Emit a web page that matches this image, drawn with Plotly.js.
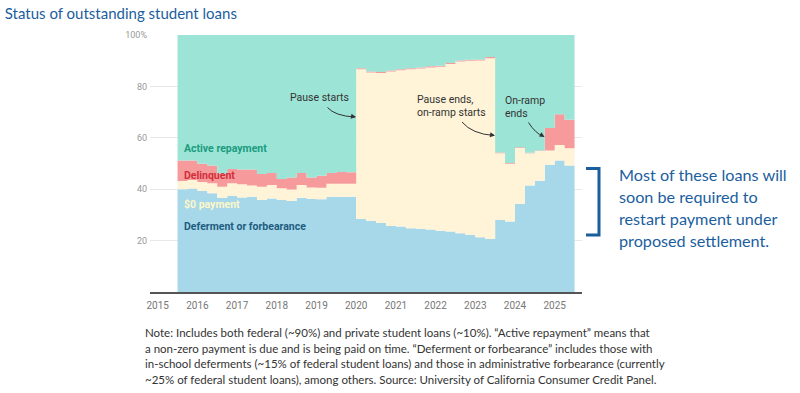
<!DOCTYPE html>
<html>
<head>
<meta charset="utf-8">
<script src="https://cdn.plot.ly/plotly-3.0.1.min.js"></script>
<style>html,body{margin:0;padding:0;background:#fff;}#chart{width:800px;height:393px;}</style>
</head>
<body>
<div id="chart"></div>
<script>
// Quarterly shares (%) of outstanding student loans, 2015 Q3 – 2025 Q2
const quarters = [
  "2015Q3","2015Q4","2016Q1","2016Q2","2016Q3","2016Q4","2017Q1","2017Q2","2017Q3","2017Q4",
  "2018Q1","2018Q2","2018Q3","2018Q4","2019Q1","2019Q2","2019Q3","2019Q4","2020Q1","2020Q2",
  "2020Q3","2020Q4","2021Q1","2021Q2","2021Q3","2021Q4","2022Q1","2022Q2","2022Q3","2022Q4",
  "2023Q1","2023Q2","2023Q3","2023Q4","2024Q1","2024Q2","2024Q3","2024Q4","2025Q1","2025Q2"
];
const deferment = [
  40.0,40.3,39.3,38.4,36.7,37.5,36.8,37.1,35.8,36.4,
  35.8,35.4,36.7,36.2,36.1,37.1,37.1,37.1,28.4,27.7,
  26.8,25.7,25.5,24.8,24.6,24.3,23.8,23.5,22.9,22.2,
  21.3,20.6,28.0,27.4,34.3,41.4,43.3,49.5,51.2,49.2
];
const zeroPayment = [
  3.2,3.3,3.5,3.9,4.3,4.8,5.1,4.3,5.2,5.2,
  4.6,4.5,4.9,4.5,4.5,5.0,5.0,5.0,58.3,57.7,
  58.4,60.1,60.8,61.9,62.4,63.1,63.8,65.2,66.8,67.8,
  68.8,70.4,26.0,22.5,21.7,12.6,11.6,5.6,6.0,6.7
];
const delinquent = [
  8.0,7.6,7.1,6.9,5.0,5.6,5.8,6.3,4.9,4.7,
  3.6,4.7,4.7,3.9,4.6,4.2,4.6,4.5,0.4,0.4,
  0.4,0.4,0.4,0.4,0.4,0.4,0.4,0.4,0.4,0.4,
  0.4,0.4,0.3,0.3,0.3,0.2,0.2,8.7,12.0,11.1
];
const activeRepayment = [
  48.8,48.8,50.1,50.8,54.0,52.1,52.3,52.3,54.1,53.7,
  56.0,55.4,53.7,55.4,54.8,53.7,53.3,53.4,12.9,14.2,
  14.4,13.8,13.3,12.9,12.6,12.2,12.0,10.9,9.9,9.6,
  9.5,8.6,45.7,49.8,43.7,45.8,44.9,36.2,30.8,33.0
];
const xTickVals = [2015,2016,2017,2018,2019,2020,2021,2022,2023,2024,2025];
const xTickText = ["2015","2016","2017","2018","2019","2020","2021","2022","2023","2024","2025"];
const yTickVals = [20,40,60,80,100];
const yTickText = ["20","40","60","80","100%"];

// quarter start as decimal year, plus closing edge for step shape
function qStart(q){ return parseInt(q.slice(0,4)) + (parseInt(q.slice(5))-1)*0.25; }
const xs = quarters.map(qStart);
xs.push(xs[xs.length-1]+0.25);
function closeStep(a){ return a.concat([a[a.length-1]]); }

const series = [
  {name:"Deferment or forbearance", y:deferment, color:"#a6d8ea"},
  {name:"$0 payment", y:zeroPayment, color:"#fff3d8"},
  {name:"Delinquent", y:delinquent, color:"#f79a9c"},
  {name:"Active repayment", y:activeRepayment, color:"#9ce4d6"}
];
const traces = series.map(s => ({
  type:"scatter", mode:"lines", x:xs, y:closeStep(s.y), name:s.name,
  stackgroup:"one", line:{width:0, shape:"hv"}, fillcolor:s.color, hoverinfo:"skip"
}));

// pixel helpers for decorations
const L=150, T=35, PW=432, PH=257, X0=2014.806, X1=2025.688;
const xd = px => X0 + (px-L)/PW*(X1-X0);
const yd = py => (T+PH-py)/PH*100;
const xp = px => (px-L)/PW;
const yp = py => (T+PH-py)/PH;

const annoFont = {family:"Roboto, sans-serif", size:10.5, color:"#333"};
const annotations = [];
function txt(px, py, text, font, xanchor){
  annotations.push({xref:"paper", yref:"paper", x:xp(px), y:yp(py), text:text, showarrow:false,
    xanchor:xanchor||"left", yanchor:"middle", font:font});
}
function arrowHead(px, py, dx, dy){
  annotations.push({xref:"x", yref:"y", x:xd(px), y:yd(py), ax:-dx, ay:-dy, axref:"pixel", ayref:"pixel",
    text:"", showarrow:true, arrowhead:2, arrowsize:1, arrowwidth:1, arrowcolor:"#333", standoff:0});
}
// in-chart labels
const lab = (c) => ({family:"Roboto, sans-serif", size:10.5, color:c, weight:"bold"});
txt(182, 148, "<b>Active repayment</b>", lab("#1a9c7e"));
txt(182, 175, "<b>Delinquent</b>", lab("#d12f3b"));
txt(182, 204, "<b>$0 payment</b>", lab("#fff6c8"));
txt(182, 226, "<b>Deferment or forbearance</b>", lab("#1f5d80"));
// event annotations
txt(319.5, 97, "Pause starts", annoFont, "center");
txt(415, 99.5, "Pause ends,", annoFont);
txt(415, 112, "on-ramp starts", annoFont);
txt(502.5, 100, "On-ramp", annoFont);
txt(502.5, 113, "ends", annoFont);
arrowHead(356, 117, 6, 1);
arrowHead(495, 135.5, 6, 1);
arrowHead(544.5, 137, 5, 3);
// right-side statement
const sideFont = {family:"Lato, sans-serif", size:16.2, color:"#1b5e9e"};
txt(617, 174, "Most of these loans will", sideFont);
txt(617, 196.5, "soon be required to", sideFont);
txt(617, 218.5, "restart payment under", sideFont);
txt(617, 240.5, "proposed settlement.", sideFont);
// note
const noteFont = {family:"Lato, sans-serif", size:11.5, color:"#333"};
txt(142.5, 332, "Note: Includes both federal (~90%) and private student loans (~10%). “Active repayment” means that", noteFont);
txt(142.5, 348, "a non-zero payment is due and is being paid on time. “Deferment or forbearance” includes those with", noteFont);
txt(142.5, 363.5, "in-school deferments (~15% of federal student loans) and those in administrative forbearance (currently", noteFont);
txt(142.5, 379.5, "~25% of federal student loans), among others. Source: University of California Consumer Credit Panel.", noteFont);

const curve = (x0,y0,cx,cy,x1,y1) => ({type:"path", xref:"x", yref:"y",
  path:`M ${xd(x0)},${yd(y0)} Q ${xd(cx)},${yd(cy)} ${xd(x1)},${yd(y1)}`,
  line:{color:"#333", width:1}});
const shapes = [
  curve(327.5,107.5, 335,116, 355,117),
  curve(462,122, 472,134, 494,135.5),
  curve(528.5,122.5, 535,133, 543.5,136.5),
  {type:"path", xref:"paper", yref:"paper",
   path:`M ${xp(586)},${yp(168.5)} L ${xp(599)},${yp(168.5)} L ${xp(599)},${yp(235)} L ${xp(586)},${yp(235)}`,
   line:{color:"#1b5e9e", width:3}}
];

const layout = {
  width:800, height:393,
  margin:{l:L, r:800-L-PW, t:T, b:393-T-PH, pad:0},
  paper_bgcolor:"#fff", plot_bgcolor:"#fff",
  showlegend:false,
  title:{text:"Status of outstanding student loans", x:0.006, xanchor:"left", xref:"container",
         y:1-13.5/393, yanchor:"middle", yref:"container",
         font:{family:"Lato, sans-serif", size:15, color:"#1b5e9e"}},
  xaxis:{range:[X0,X1], tickvals:xTickVals, ticktext:xTickText, showgrid:false, zeroline:false,
         showline:true, linecolor:"#555", linewidth:1.5, ticks:"", ticklabelstandoff:3,
         tickfont:{family:"Roboto, sans-serif", size:10, color:"#777"}, fixedrange:true},
  yaxis:{range:[0,100], tickvals:yTickVals, ticktext:yTickText, showgrid:true, gridcolor:"#e8e8e8",
         gridwidth:1, zeroline:false, showline:false, ticks:"", ticklabelstandoff:2,
         tickfont:{family:"Roboto, sans-serif", size:9, color:"#999"}, fixedrange:true},
  annotations:annotations, shapes:shapes
};
Plotly.newPlot("chart", traces, layout, {displayModeBar:false, staticPlot:true});
</script>
</body>
</html>
